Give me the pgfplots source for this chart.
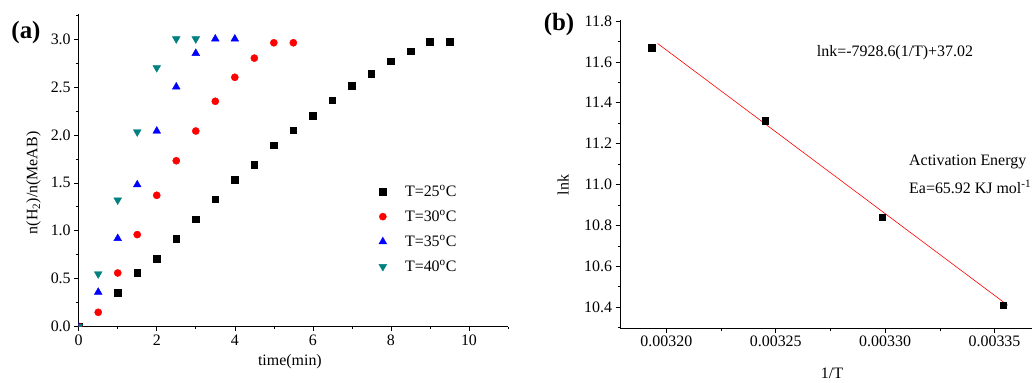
\documentclass[border=0pt]{standalone}
\usepackage{fontspec}
\setmainfont{Liberation Serif}
\usepackage{pgfplots}
\pgfplotsset{compat=1.18}
\definecolor{tealc}{RGB}{0,128,128}
\begin{document}
\begin{tikzpicture}
\useasboundingbox (0bp,0bp) rectangle (1036bp,383bp);
\pgfplotsset{every axis/.append style={
  scale only axis, anchor=south west,
  font=\fontsize{16}{19}\selectfont,
  axis x line*=bottom, axis y line*=left, tick align=outside,
  major tick length=4.5bp, minor tick length=2.5bp,
  /pgf/number format/assume math mode=true,
  every tick/.style={black, line width=0.6pt},
  axis line style={line width=0.7pt},
  tick label style={font=\fontsize{16}{19}\selectfont},
  label style={font=\fontsize{16}{19}\selectfont},
}}
% ---------- panel (a)
\begin{axis}[at={(78.7bp,56.3bp)}, width=429.3bp, height=312.7bp,
  xmin=0, xmax=11, ymin=0, ymax=3.26,
  xtick={0,2,4,6,8,10}, minor xtick={1,3,5,7,9,11},
  ytick={0,0.5,1,1.5,2,2.5,3}, minor ytick={0.25,0.75,1.25,1.75,2.25,2.75,3.25},
  yticklabel style={/pgf/number format/.cd,fixed,fixed zerofill,precision=1},
  xlabel={time(min)}, ylabel={n(H\textsubscript{2})/n(MeAB)},
  xlabel style={at={(axis description cs:0.492,-0.113)}, anchor=center},
  ylabel style={at={(axis description cs:-0.105,0.46)}, anchor=center},
  clip marker paths=true,
  legend cell align=left,
  legend image code/.code={\draw[#1, only marks] plot coordinates {(0bp,0bp)}; \path (20bp,0bp);},
  legend style={draw=none, fill=none, at={(rel axis cs:0.692,0.466)}, anchor=north west,
    row sep=8bp, font=\fontsize{16}{19}\selectfont},
]
\addplot[only marks, mark=square*, mark size=3.3, black] coordinates {
(0,0) (1,0.355) (1.5,0.56) (2,0.71) (2.5,0.92) (3,1.12) (3.5,1.33) (4,1.53) (4.5,1.69)
(5,1.89) (5.5,2.05) (6,2.20) (6.5,2.36) (7,2.51) (7.5,2.64) (8,2.77) (8.5,2.87) (9,2.97) (9.5,2.97)};
\addlegendentry{T=25\textsuperscript{o}C}
\addplot[only marks, mark=*, mark size=3.6, red] coordinates {
(0,0) (0.5,0.15) (1,0.56) (1.5,0.96) (2,1.37) (2.5,1.73) (3,2.04) (3.5,2.35) (4,2.60) (4.5,2.80) (5,2.96) (5.5,2.96)};
\addlegendentry{T=30\textsuperscript{o}C}
\addplot[only marks, mark=triangle*, mark size=4.5, blue] coordinates {
(0,0) (0.5,0.36) (1,0.92) (1.5,1.48) (2,2.04) (2.5,2.50) (3,2.85) (3.5,3.0) (4,3.0)};
\addlegendentry{T=35\textsuperscript{o}C}
\addplot[only marks, mark=triangle*, mark options={rotate=180}, mark size=4.5, tealc] coordinates {
(0,0) (0.5,0.55) (1,1.32) (1.5,2.03) (2,2.70) (2.5,3.0) (3,3.0)};
\addlegendentry{T=40\textsuperscript{o}C}
\end{axis}
% ---------- panel (b)
\begin{axis}[at={(620bp,54.7bp)}, width=411.7bp, height=308.3bp,
  xmin=0.0031788, xmax=0.003367, ymin=10.297, ymax=11.805,
  xtick={0.0032,0.00325,0.0033,0.00335}, xticklabels={0.00320,0.00325,0.00330,0.00335},
  minor xtick={0.003225,0.003275,0.003325},
  ytick={10.4,10.6,10.8,11.0,11.2,11.4,11.6,11.8},
  yticklabels={10.4,10.6,10.8,11.0,11.2,11.4,11.6,11.8},
  minor ytick={10.3,10.5,10.7,10.9,11.1,11.3,11.5,11.7},
  scaled x ticks=false,
  xlabel={1/T}, ylabel={lnk},
  xlabel style={at={(axis description cs:0.515,-0.145)}, anchor=center},
  ylabel style={at={(axis description cs:-0.138,0.465)}, anchor=center},
  clip=false,
]
\addplot[red, line width=0.6pt] coordinates {(0.003196,11.69) (0.003356,10.41)};
\addplot[only marks, mark=square*, mark size=3.3, black] coordinates {
(0.0031934,11.67) (0.0032452,11.313) (0.0032987,10.84) (0.0033540,10.41)};
\node[anchor=center] at (rel axis cs:0.668,0.893) {lnk=-7928.6(1/T)+37.02};
\node[anchor=west, inner sep=0pt] at (rel axis cs:0.702,0.54) {Activation Energy};
\node[anchor=west, inner sep=0pt] at (rel axis cs:0.702,0.458) {Ea=65.92 KJ mol\textsuperscript{-1}};
\end{axis}
\node[font=\fontsize{25}{29}\selectfont\bfseries] at (26bp,350bp) {(a)};
\node[font=\fontsize{25}{29}\selectfont\bfseries] at (559bp,358bp) {(b)};
\end{tikzpicture}
\end{document}
